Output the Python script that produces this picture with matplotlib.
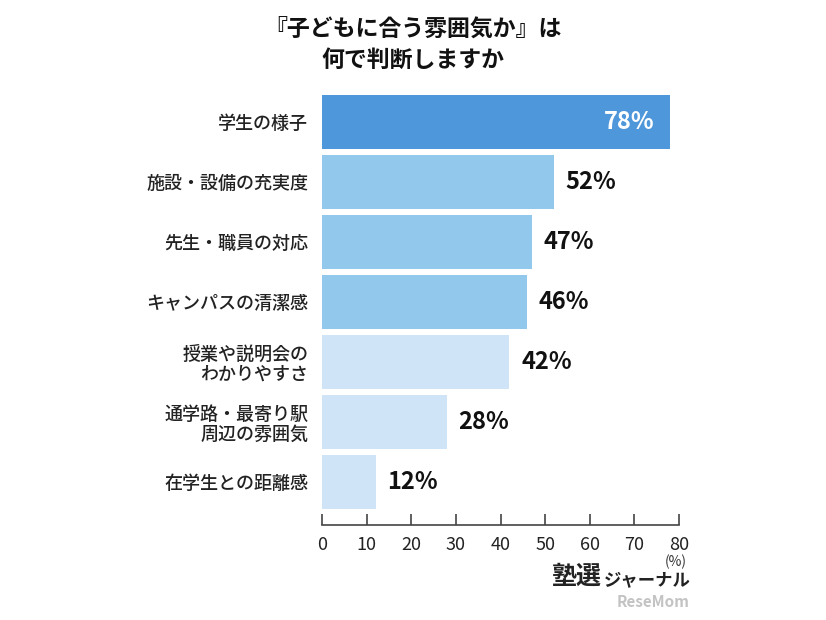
import matplotlib
matplotlib.use("Agg")
import matplotlib.pyplot as plt

plt.rcParams['font.family'] = ['Noto Sans CJK JP', 'DejaVu Sans']

categories = ["学生の様子", "施設・設備の充実度", "先生・職員の対応", "キャンパスの清潔感",
              "授業や説明会の\nわかりやすさ", "通学路・最寄り駅\n周辺の雰囲気", "在学生との距離感"]
values = [78, 52, 47, 46, 42, 28, 12]
colors = ["#4f97db", "#91c8ec", "#91c8ec", "#91c8ec", "#cfe4f6", "#cfe4f6", "#cfe4f6"]
xticks = [0, 10, 20, 30, 40, 50, 60, 70, 80]
title = "『子どもに合う雰囲気か』は\n何で判断しますか"

fig = plt.figure(figsize=(8.26, 6.2), dpi=100)
ax = fig.add_axes([322/826, 1-525/620, (679-322)/826, (525-95)/620])

y = list(range(len(categories)))
ax.barh(y, values, height=0.9, color=colors)
ax.set_ylim(6.717, -0.45)
ax.set_xlim(0, 80)

for i, v in enumerate(values):
    if i == 0:
        ax.text(v - 3.6, i, f"{v}%", ha='right', va='center', color='white',
                fontsize=17, fontweight='bold')
    else:
        ax.text(v + 2.6, i, f"{v}%", ha='left', va='center', color='#111111',
                fontsize=17, fontweight='bold')

ax.set_yticks(y)
ax.set_yticklabels(categories, fontsize=13, fontweight='medium', color='#222222',
                   linespacing=1.1)
ax.tick_params(axis='y', length=0, pad=10)
ax.set_xticks(xticks)
ax.set_xticklabels([str(t) for t in xticks], fontsize=13, color='#222222')
ax.tick_params(axis='x', direction='in', length=8, width=1.2, color='#444444', pad=8)

for s in ['top', 'right', 'left']:
    ax.spines[s].set_visible(False)
ax.spines['bottom'].set_color('#444444')
ax.spines['bottom'].set_linewidth(1.2)

fig.text(413/826, 1-45/620, title, ha='center', va='center', fontsize=16.5,
         fontweight='bold', color='#111111', linespacing=1.45)
fig.text(676/826, 1-562/620, "(%)", ha='center', va='center', fontsize=10, color='#333333')
fig.text(552/826, 1-577/620, "塾選", ha='left', va='center', fontsize=18,
         fontweight='bold', color='#222222')
fig.text(604/826, 1-580/620, "ジャーナル", ha='left', va='center', fontsize=12.5,
         fontweight='bold', color='#222222')
fig.text(690/826, 1-602/620, "ReseMom", ha='right', va='center', fontsize=11,
         fontweight='bold', color='#aaaaaa', alpha=0.7)

fig.savefig("out.png", dpi=100, facecolor='white')
